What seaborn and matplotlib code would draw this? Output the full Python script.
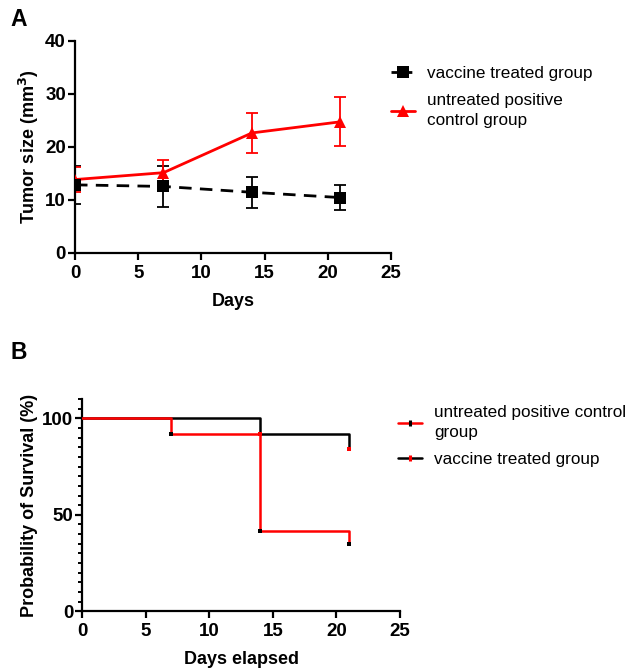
import numpy as np
import pandas as pd
import matplotlib
matplotlib.use("Agg")
import matplotlib.pyplot as plt
from matplotlib.lines import Line2D
from matplotlib.ticker import MultipleLocator
import seaborn as sns

# ---------------- data ----------------
days = [0, 7, 14, 21]
vaccine_mean = [12.8, 12.5, 11.4, 10.4]
vaccine_err = [3.6, 3.8, 2.9, 2.3]
untreated_mean = [13.8, 15.1, 22.6, 24.7]
untreated_err = [2.4, 2.4, 3.7, 4.6]

surv_days = [0, 7, 14, 21]
surv_untreated = [100, 91.7, 41.7, 35.0]
surv_vaccine = [100, 100, 91.7, 84.0]
event_days_untreated = [7, 14, 21]
event_vals_untreated = [91.7, 41.7, 35.0]
event_days_vaccine = [14, 21]
event_vals_vaccine = [91.7, 84.0]

label_vac = "vaccine treated group"
label_unt = "untreated positive\ncontrol group"
label_unt_b = "untreated positive control\ngroup"

RED = "#ff0000"
BLACK = "#000000"

sns.set_theme(style="ticks")
plt.rcParams['font.family'] = ['Liberation Sans', 'DejaVu Sans']
plt.rcParams['text.color'] = 'black'
plt.rcParams['axes.labelcolor'] = 'black'
plt.rcParams['xtick.color'] = 'black'
plt.rcParams['ytick.color'] = 'black'
plt.rcParams['legend.labelcolor'] = 'black'

fig = plt.figure(figsize=(6.27, 6.68), dpi=100)
W, H = 627, 668

def axes_px(x0, x1, ytop, ybot):
    return fig.add_axes([x0 / W, 1 - ybot / H, (x1 - x0) / W, (ybot - ytop) / H])

def style_axes(ax):
    for s in ['top', 'right']:
        ax.spines[s].set_visible(False)
    for s in ['left', 'bottom']:
        ax.spines[s].set_linewidth(1.6)
        ax.spines[s].set_color('black')
    ax.tick_params(axis='both', which='major', direction='out', length=5, width=1.6,
                   colors='black', labelsize=13.5, pad=1.5)
    ax.tick_params(axis='x', which='major', pad=3.5)
    ax.tick_params(axis='both', which='minor', direction='out', length=3.2, width=1.4, colors='black')
    for lab in ax.get_xticklabels() + ax.get_yticklabels():
        lab.set_fontweight('bold')

def style_legend(leg):
    for t in leg.get_texts():
        t.set_linespacing(1.45)

# ---------------- Panel A ----------------
axA = axes_px(75, 391, 40.7, 252.7)
dfA = pd.DataFrame({
    'day': days * 2,
    'size': vaccine_mean + untreated_mean,
    'group': ['vac'] * 4 + ['unt'] * 4,
})
axA.errorbar(days, vaccine_mean, yerr=vaccine_err, fmt='none', ecolor=BLACK,
             elinewidth=1.3, capsize=4.5, capthick=1.3, zorder=2)
axA.errorbar(days, untreated_mean, yerr=untreated_err, fmt='none', ecolor=RED,
             elinewidth=1.3, capsize=4.5, capthick=1.3, zorder=2)
sns.lineplot(data=dfA[dfA.group == 'unt'], x='day', y='size', ax=axA, color=RED,
             lw=2, marker='^', markersize=8, markeredgewidth=0, zorder=3, legend=False)
sns.lineplot(data=dfA[dfA.group == 'vac'], x='day', y='size', ax=axA, color=BLACK,
             lw=2, marker='s', markersize=8.5, markeredgewidth=0, zorder=4, legend=False)
axA.lines[-1].set_dashes([4.5, 3])
axA.set_xlim(0, 25)
axA.set_ylim(0, 40)
axA.set_xticks([0, 5, 10, 15, 20, 25])
axA.set_yticks([0, 10, 20, 30, 40])
axA.set_xlabel("Days", fontsize=13, fontweight='bold', labelpad=8)
axA.set_ylabel("Tumor size (mm$^\\mathbf{3}$)", fontsize=13, fontweight='bold', labelpad=3)
style_axes(axA)

hA = [Line2D([0], [0], color=BLACK, lw=2, dashes=[2.5, 2.5], marker='s', markersize=8, markeredgewidth=0),
      Line2D([0], [0], color=RED, lw=2, marker='^', markersize=8, markeredgewidth=0)]
legA = axA.legend(hA, [label_vac, label_unt], loc='upper left', bbox_to_anchor=(391 / W, 1 - 66 / H),
                  bbox_transform=fig.transFigure, frameon=False, fontsize=12.3, handlelength=1.4,
                  handletextpad=0.7, labelspacing=0.7, borderpad=0, borderaxespad=0)
style_legend(legA)

fig.text(10 / W, 1 - 19 / H, "A", fontsize=16.5, fontweight='bold', va='center', ha='left')

# ---------------- Panel B ----------------
axB = axes_px(82.3, 400, 399, 611.3)
dfB = pd.DataFrame({
    'day': surv_days * 2,
    'surv': surv_untreated + surv_vaccine,
    'group': ['unt'] * 4 + ['vac'] * 4,
})
sns.lineplot(data=dfB[dfB.group == 'vac'], x='day', y='surv', ax=axB, color=BLACK,
             lw=1.8, drawstyle='steps-post', legend=False, zorder=2)
sns.lineplot(data=dfB[dfB.group == 'unt'], x='day', y='surv', ax=axB, color=RED,
             lw=1.8, drawstyle='steps-post', legend=False, zorder=3)
sns.scatterplot(x=event_days_untreated, y=event_vals_untreated, ax=axB, color=BLACK,
                marker='s', s=12, linewidth=0, zorder=5)
sns.scatterplot(x=event_days_vaccine, y=event_vals_vaccine, ax=axB, color=RED,
                marker='s', s=12, linewidth=0, zorder=5)
axB.set_xlim(0, 25)
axB.set_ylim(0, 110)
axB.set_xticks([0, 5, 10, 15, 20, 25])
axB.set_yticks([0, 50, 100])
axB.yaxis.set_minor_locator(MultipleLocator(5))
axB.set_xlabel("Days elapsed", fontsize=13, fontweight='bold', labelpad=8)
axB.set_ylabel("Probability of Survival (%)", fontsize=13, fontweight='bold', labelpad=3)
style_axes(axB)

hB = [Line2D([0], [0], color=RED, lw=1.8, marker='|', markersize=5, markeredgewidth=2.2,
             markeredgecolor=BLACK),
      Line2D([0], [0], color=BLACK, lw=1.8, marker='|', markersize=5, markeredgewidth=2.2,
             markeredgecolor=RED)]
legB = axB.legend(hB, [label_unt_b, label_vac], loc='upper left', bbox_to_anchor=(398 / W, 1 - 405 / H),
                  bbox_transform=fig.transFigure, frameon=False, fontsize=12.3, handlelength=1.4,
                  handletextpad=0.7, labelspacing=0.7, borderpad=0, borderaxespad=0)
style_legend(legB)

fig.text(10 / W, 1 - 352 / H, "B", fontsize=16.5, fontweight='bold', va='center', ha='left')

fig.savefig("out.png", dpi=100)
